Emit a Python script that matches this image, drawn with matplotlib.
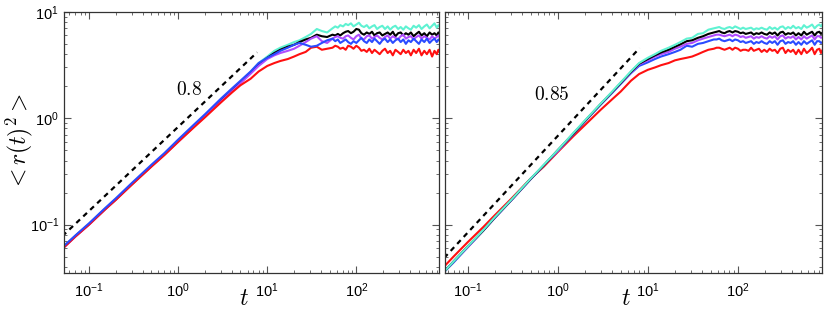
import numpy as np
import matplotlib
matplotlib.use("Agg")
import matplotlib.pyplot as plt

plt.rcParams['font.family'] = ['Liberation Sans', 'DejaVu Sans']

# time samples shared by all curves
t = [0.05, 0.07, 0.1, 0.15, 0.2, 0.3, 0.5, 0.7, 1.0, 1.5, 2.0, 3.0, 4.0, 5.0, 6.5,
     8, 10, 12, 14, 17, 20, 23, 27, 31, 36, 41, 47,
     54, 58, 62, 66, 71, 76, 81, 87, 93, 100,
     107, 114, 122, 131, 140, 150, 160, 171, 183, 196,
     210, 225, 240, 257, 275, 295, 315, 337, 360, 385,
     410, 440, 470, 505, 540, 580, 620, 665, 710, 755,
     800, 835, 870]

# left panel (slope 0.8)
left_cyan = [0.060, 0.078, 0.101, 0.140, 0.174, 0.240, 0.357, 0.46, 0.61, 0.85, 1.06, 1.46, 1.83, 2.20, 2.72,
             3.3, 3.8, 4.3, 4.6, 4.9, 5.2, 5.4, 5.8, 6.2, 6.9, 6.6, 6.4,
             7.0, 7.3, 7.1, 7.5, 7.3, 7.7, 7.5, 7.8, 7.3, 7.6,
             7.9, 7.4, 7.2, 7.5, 7.0, 7.3, 7.5, 6.9, 7.2, 7.4,
             6.9, 7.3, 6.8, 7.2, 7.4, 6.9, 7.2, 6.8, 7.3, 7.0,
             6.8, 7.4, 7.1, 7.5, 6.9, 7.3, 7.6, 7.0, 7.4, 7.8,
             7.1, 7.5, 7.2]
left_black = [0.060, 0.078, 0.101, 0.139, 0.173, 0.239, 0.355, 0.46, 0.61, 0.84, 1.05, 1.45, 1.82, 2.18, 2.68,
              3.2, 3.7, 4.1, 4.4, 4.7, 4.9, 5.2, 5.5, 5.7, 6.1, 5.9, 5.8,
              6.1, 6.0, 6.2, 6.0, 6.3, 6.5, 6.6, 6.3, 6.5, 6.9,
              6.8, 6.3, 6.1, 6.4, 6.2, 6.5, 6.0, 6.3, 6.4, 6.0,
              6.2, 6.4, 6.1, 6.5, 5.9, 6.3, 6.4, 6.0, 6.3, 6.1,
              6.4, 5.9, 6.2, 6.5, 6.0, 6.3, 5.9, 6.4, 6.1, 6.3,
              6.0, 6.4, 6.1]
left_purple = [0.059, 0.077, 0.100, 0.138, 0.172, 0.238, 0.354, 0.455, 0.60, 0.83, 1.04, 1.43, 1.79, 2.13, 2.62,
               3.1, 3.6, 3.9, 4.1, 4.3, 4.5, 4.8, 5.2, 5.6, 5.9, 5.3, 5.1,
               5.6, 5.8, 5.9, 5.7, 5.6, 5.9, 6.0, 5.7, 5.5, 5.9,
               6.1, 5.6, 5.5, 5.9, 6.0, 5.6, 5.8, 6.0, 5.7, 5.5,
               5.8, 6.0, 5.6, 5.9, 5.7, 5.5, 5.9, 6.1, 5.6, 5.8,
               5.9, 5.5, 5.8, 6.0, 5.6, 5.9, 5.7, 5.5, 5.9, 5.6,
               5.8, 6.0, 5.7]
left_blue = [0.061, 0.079, 0.103, 0.142, 0.177, 0.245, 0.365, 0.47, 0.63, 0.87, 1.09, 1.52, 1.90, 2.25, 2.75,
             3.3, 3.7, 4.0, 4.3, 4.6, 4.9, 5.1, 4.9, 4.7, 4.8, 5.1, 5.4,
             5.6, 5.3, 5.5, 5.1, 5.3, 5.5, 5.2, 5.0, 5.3, 5.1,
             5.4, 5.7, 5.3, 5.1, 5.5, 5.2, 5.6, 5.3, 5.0, 5.4,
             5.6, 5.2, 5.5, 5.1, 5.4, 5.6, 5.2, 5.5, 5.0, 5.4,
             5.2, 5.6, 5.3, 5.0, 5.5, 5.2, 5.6, 5.1, 5.4, 5.6,
             5.2, 5.5, 5.3]
left_red = [0.059, 0.077, 0.100, 0.138, 0.171, 0.236, 0.350, 0.45, 0.60, 0.82, 1.02, 1.40, 1.74, 2.04, 2.35,
            2.75, 3.1, 3.3, 3.45, 3.6, 3.8, 4.0, 4.2, 4.6, 4.7, 4.4, 4.5,
            4.6, 4.8, 4.7, 4.5, 4.6, 4.4, 4.8, 4.7, 4.5, 4.8,
            4.6, 4.3, 4.4, 4.2, 4.5, 4.1, 4.4, 4.2, 4.0, 4.3,
            4.5, 4.1, 4.3, 3.9, 4.4, 4.2, 4.0, 4.4, 4.1, 4.3,
            3.9, 4.4, 4.1, 4.5, 3.9, 4.3, 4.0, 4.4, 3.8, 4.3,
            4.0, 4.4, 4.1]

# right panel (slope 0.85)
right_cyan = [0.033, 0.045, 0.062, 0.089, 0.117, 0.168, 0.27, 0.364, 0.50, 0.73, 0.95, 1.37, 1.77, 2.17, 2.76,
              3.3, 3.7, 4.0, 4.3, 4.6, 4.9, 5.2, 5.6, 5.7, 6.2, 6.3, 6.8,
              7.0, 7.1, 7.2, 7.0, 6.9, 7.1, 7.2, 7.0, 7.3, 7.1,
              6.9, 7.1, 6.9, 7.0, 7.1, 6.8, 7.0, 6.9, 7.1, 6.9,
              6.8, 7.2, 6.9, 7.1, 6.8, 7.2, 7.3, 6.9, 7.2, 7.0,
              7.4, 7.0, 7.2, 6.9, 7.5, 7.1, 7.3, 7.6, 7.0, 7.4,
              7.6, 7.3, 7.7]
right_black = [0.033, 0.045, 0.062, 0.088, 0.116, 0.167, 0.268, 0.36, 0.50, 0.72, 0.94, 1.36, 1.75, 2.14, 2.72,
               3.25, 3.6, 3.9, 4.15, 4.4, 4.7, 4.95, 5.3, 5.4, 5.7, 5.9, 6.2,
               6.4, 6.5, 6.6, 6.4, 6.3, 6.5, 6.6, 6.4, 6.6, 6.5,
               6.3, 6.4, 6.2, 6.3, 6.4, 6.1, 6.3, 6.2, 6.4, 6.2,
               6.1, 6.4, 6.2, 6.4, 6.0, 6.4, 6.5, 6.1, 6.3, 6.2,
               6.4, 6.0, 6.3, 6.0, 6.5, 6.1, 6.3, 6.5, 6.0, 6.4,
               6.5, 6.2, 6.4]
right_purple = [0.033, 0.045, 0.061, 0.088, 0.116, 0.166, 0.267, 0.36, 0.49, 0.72, 0.93, 1.35, 1.74, 2.12, 2.68,
                3.2, 3.5, 3.8, 4.0, 4.2, 4.5, 4.7, 5.0, 5.1, 5.4, 5.6, 5.8,
                6.0, 6.1, 6.1, 6.0, 5.9, 6.0, 6.1, 5.9, 6.1, 6.0,
                5.8, 5.9, 5.7, 5.8, 5.9, 5.6, 5.8, 5.7, 5.9, 5.7,
                5.6, 5.9, 5.7, 5.9, 5.5, 5.9, 6.0, 5.6, 5.8, 5.7,
                5.9, 5.5, 5.8, 5.5, 5.9, 5.6, 5.8, 6.0, 5.5, 5.9,
                5.9, 5.7, 5.8]
right_blue = [0.033, 0.044, 0.061, 0.088, 0.115, 0.166, 0.266, 0.36, 0.49, 0.71, 0.93, 1.34, 1.72, 2.10, 2.65,
              3.1, 3.35, 3.6, 3.8, 4.0, 4.2, 4.4, 4.8, 4.7, 5.0, 5.1, 5.3,
              5.5, 5.5, 5.6, 5.4, 5.3, 5.4, 5.5, 5.3, 5.5, 5.4,
              5.2, 5.3, 5.1, 5.2, 5.3, 5.0, 5.2, 5.1, 5.3, 5.1,
              5.0, 5.3, 5.1, 5.3, 4.9, 5.3, 5.4, 5.0, 5.2, 5.1,
              5.3, 4.9, 5.2, 4.9, 5.3, 5.0, 5.2, 5.4, 4.9, 5.3,
              5.3, 5.1, 5.2]
right_red = [0.037, 0.050, 0.068, 0.095, 0.122, 0.172, 0.27, 0.35, 0.48, 0.68, 0.86, 1.20, 1.50, 1.78, 2.25,
             2.6, 2.85, 3.0, 3.15, 3.3, 3.5, 3.6, 3.7, 3.8, 4.0, 4.2, 4.4,
             4.5, 4.6, 4.6, 4.5, 4.4, 4.5, 4.6, 4.4, 4.6, 4.5,
             4.3, 4.4, 4.4, 4.3, 4.6, 4.3, 4.4, 4.5, 4.2, 4.4,
             4.2, 4.5, 4.3, 4.4, 4.1, 4.5, 4.6, 4.1, 4.4, 4.2,
             4.4, 4.0, 4.4, 4.0, 4.5, 4.1, 4.3, 4.6, 4.0, 4.4,
             4.5, 4.1, 4.4]

# power-law guide lines: (prefactor, exponent, t_start, t_end, label)
guide_left = (0.83, 0.79, 0.05, 7.7, '$0.8$')
guide_right = (0.68, 0.91, 0.055, 8.1, '$0.85$')

cyan, purple, blue, red = '#5ff2d2', '#b04cff', '#2a4bff', '#ff1010'

fig = plt.figure(figsize=(8.3, 3.12), dpi=100)
axL = fig.add_axes([0.077, 0.125, 0.452, 0.837])
axR = fig.add_axes([0.536, 0.125, 0.454, 0.837])

lw = 1.5
axL.plot(t, left_cyan, color=cyan, lw=lw)
axL.plot(t, left_black, color='k', lw=lw)
axL.plot(t, left_purple, color=purple, lw=lw)
axL.plot(t, left_red, color=red, lw=lw)
axL.plot(t, left_blue, color=blue, lw=lw)

axR.plot(t, right_red, color=red, lw=lw)
axR.plot(t, right_blue, color=blue, lw=lw)
axR.plot(t, right_purple, color=purple, lw=lw)
axR.plot(t, right_black, color='k', lw=lw)
axR.plot(t, right_cyan, color=cyan, lw=lw)

for ax, g, txt_pos in [(axL, guide_left, (1.33, 1.84)), (axR, guide_right, (0.86, 1.65))]:
    a, b, t0, t1, lab = g
    tt = np.array([t0, t1])
    ax.plot(tt, a * tt ** b, color='k', lw=1.6, linestyle=(0, (2.3, 2.0)))
    ax.text(txt_pos[0], txt_pos[1], lab, fontsize=14, math_fontfamily='cm',
            ha='center', va='center')

for ax in (axL, axR):
    ax.set_xscale('log')
    ax.set_yscale('log')
    ax.set_ylim(0.035, 10)
    ax.tick_params(which='both', direction='in', top=True, right=True, labelsize=10.5,
                   color='#555555')
    ax.tick_params(which='major', length=5, width=0.8)
    ax.tick_params(which='minor', length=2.5, width=0.6)
    ax.tick_params(axis='x', pad=6)
    for s in ax.spines.values():
        s.set_color('#333333')
        s.set_linewidth(0.9)
    ax.set_xlabel('$t$', fontsize=17, math_fontfamily='cm', va='center')
    ax.xaxis.set_label_coords(0.48, -0.1)

axL.set_xlim(0.052, 850)
axR.set_xlim(0.056, 850)
axR.tick_params(axis='y', which='both', labelleft=False)
axL.set_ylabel('$<r(t)^2>$', fontsize=17, math_fontfamily='cm', va='center')
axL.yaxis.set_label_coords(-0.118, 0.5)

fig.savefig('out.png', dpi=100)
